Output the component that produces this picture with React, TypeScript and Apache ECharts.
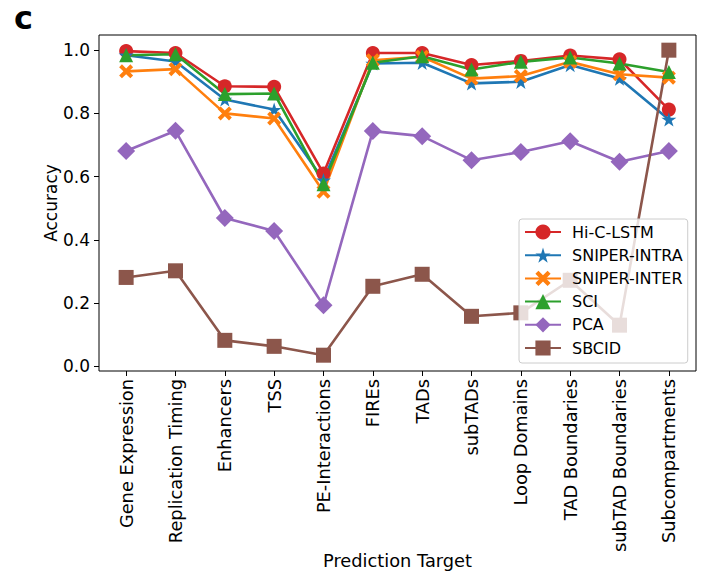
import React, { useEffect, useRef } from "react";
import * as echarts from "echarts";

const categories = [
  "Gene Expression", "Replication Timing", "Enhancers", "TSS", "PE-Interactions",
  "FIREs", "TADs", "subTADs", "Loop Domains", "TAD Boundaries", "subTAD Boundaries", "Subcompartments",
];
const hiCLSTM = [0.997, 0.991, 0.886, 0.884, 0.61, 0.991, 0.991, 0.953, 0.966, 0.983, 0.971, 0.812];
const sniperIntra = [0.984, 0.964, 0.844, 0.812, 0.589, 0.958, 0.96, 0.895, 0.9, 0.953, 0.91, 0.781];
const sniperInter = [0.933, 0.94, 0.8, 0.784, 0.552, 0.968, 0.979, 0.91, 0.918, 0.963, 0.924, 0.913];
const sci = [0.984, 0.987, 0.861, 0.863, 0.576, 0.96, 0.981, 0.939, 0.963, 0.977, 0.958, 0.931];
const pca = [0.681, 0.745, 0.469, 0.428, 0.193, 0.744, 0.728, 0.652, 0.678, 0.712, 0.647, 0.681];
const sbcid = [0.281, 0.302, 0.082, 0.063, 0.035, 0.253, 0.291, 0.158, 0.169, 0.272, 0.13, 1.0];
const yTicks = [0, 0.2, 0.4, 0.6, 0.8, 1.0];

const FONT = "DejaVu Sans";

function starPath(): string {
  const pts: string[] = [];
  for (let i = 0; i < 10; i++) {
    const r = i % 2 === 0 ? 1 : 0.382;
    const a = (Math.PI / 5) * i - Math.PI / 2;
    pts.push(`${(r * Math.cos(a)).toFixed(4)},${(r * Math.sin(a)).toFixed(4)}`);
  }
  return "path://M" + pts.join(" L") + " Z";
}
const X_PATH = "path://M2,0 L5,3 L8,0 L10,2 L7,5 L10,8 L8,10 L5,7 L2,10 L0,8 L3,5 L0,2 Z";

export default function App() {
  const ref = useRef<HTMLDivElement>(null);
  useEffect(() => {
    if (!ref.current) return;
    const chart = echarts.init(ref.current, null, { renderer: "svg" });
    const mk = (name: string, vals: number[], color: string, symbol: string, size: number) => ({
      name,
      type: "line",
      data: vals.map((v, i) => [i, v]),
      symbol,
      symbolSize: size,
      symbolKeepAspect: true,
      showSymbol: true,
      lineStyle: { color, width: 2.6 },
      itemStyle: { color, opacity: 1 },
      emphasis: { disabled: true },
    });
    chart.setOption({
      animation: false,
      textStyle: { fontFamily: FONT },
      grid: {
        left: 99, top: 35, right: 8, bottom: 200, show: true, borderColor: "#000", borderWidth: 1,
        containLabel: false, outerBoundsMode: "none",
      },
      xAxis: {
        type: "value",
        min: -0.55,
        max: 11.55,
        splitLine: { show: false },
        axisLine: { show: false, onZero: false },
        axisTick: { show: true, length: 5, lineStyle: { color: "#000" }, customValues: categories.map((_, i) => i) },
        axisLabel: {
          customValues: categories.map((_, i) => i),
          formatter: (v: number) => categories[Math.round(v)] ?? "",
          rotate: 90,
          margin: 8,
          color: "#000",
          fontSize: 17.8,
          fontFamily: FONT,
        },
        name: "Prediction Target",
        nameLocation: "middle",
        nameGap: 180,
        nameMoveOverlap: false,
        nameTextStyle: { color: "#000", fontSize: 17.8, fontFamily: FONT },
      },
      yAxis: {
        type: "value",
        min: -0.015,
        max: 1.048,
        splitLine: { show: false },
        axisLine: { show: false, onZero: false },
        axisTick: { show: true, length: 5, lineStyle: { color: "#000" }, customValues: yTicks },
        axisLabel: {
          customValues: yTicks,
          formatter: (v: number) => v.toFixed(1),
          margin: 9,
          color: "#000",
          fontSize: 17,
          fontFamily: FONT,
        },
        name: "Accuracy",
        nameLocation: "middle",
        nameGap: 40,
        nameMoveOverlap: false,
        nameTextStyle: { color: "#000", fontSize: 17, fontFamily: FONT },
      },
      legend: {
        orient: "vertical",
        left: 519,
        top: 219,
        padding: [5, 5, 7, 5],
        itemWidth: 36,
        itemHeight: 19,
        itemGap: 7.2,
        backgroundColor: "rgba(255,255,255,0.8)",
        borderColor: "#cccccc",
        borderWidth: 1,
        borderRadius: 3,
        textStyle: { color: "#000", fontSize: 16, fontFamily: FONT, lineHeight: 16, padding: [0, 0, 0, 6] },
        data: ["Hi-C-LSTM", "SNIPER-INTRA", "SNIPER-INTER", "SCI", "PCA", "SBCID"],
      },
      graphic: [
        { type: "text", left: 14, top: 2, style: { text: "c", fontSize: 32, fontWeight: "bold", fontFamily: FONT, fill: "#000" } },
      ],
      series: [
        mk("Hi-C-LSTM", hiCLSTM, "#d62728", "circle", 14),
        mk("SNIPER-INTRA", sniperIntra, "#1f77b4", starPath(), 15),
        mk("SNIPER-INTER", sniperInter, "#ff7f0e", X_PATH, 14),
        mk("SCI", sci, "#2ca02c", "triangle", 14),
        mk("PCA", pca, "#9467bd", "diamond", 18),
        mk("SBCID", sbcid, "#8c564b", "rect", 15),
      ],
    });
    return () => chart.dispose();
  }, []);
  return <div ref={ref} style={{ width: 704, height: 571, position: "absolute", left: 0, top: 0 }} />;
}
